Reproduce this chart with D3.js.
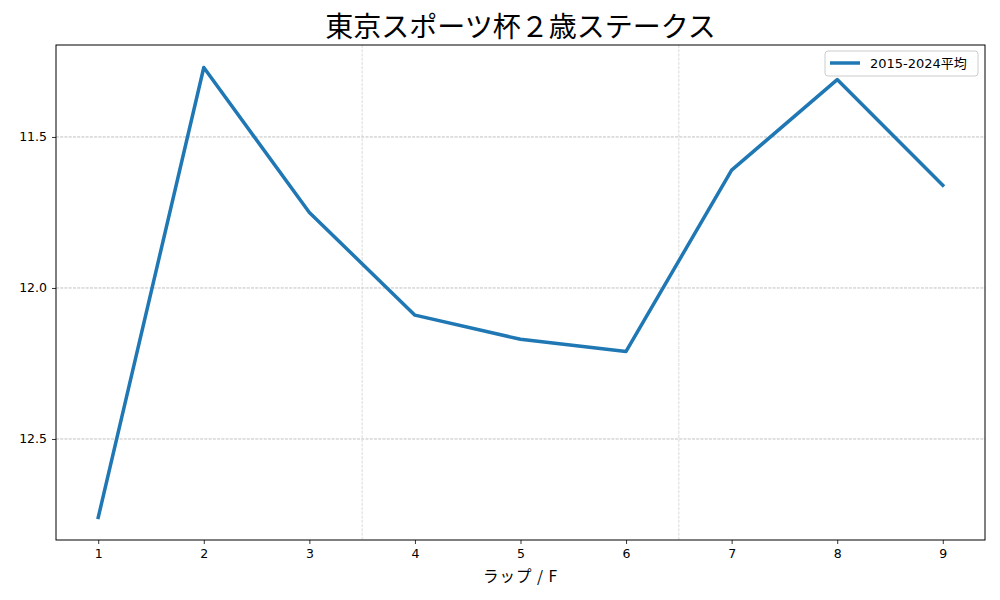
<!DOCTYPE html>
<html><head><meta charset="utf-8">
<script src="https://cdn.jsdelivr.net/npm/d3@7"></script>
<style>body{margin:0;background:#fff;} svg{display:block;}</style>
</head><body>
<svg id="c" width="1000" height="600"></svg>
<script>
const laps = [1,2,3,4,5,6,7,8,9];
const avgTimes = [12.76, 11.27, 11.75, 12.09, 12.17, 12.21, 11.61, 11.31, 11.66];
const yTicks = [11.5, 12.0, 12.5];
const vLines = [3.5, 6.5];
const seriesName = "2015-2024平均";
const title = "東京スポーツ杯２歳ステークス";
const xLabel = "ラップ / F";

const svg = d3.select("#c");
const m = {l:56, r:985, t:45, b:540};
const font = "'Noto Sans CJK JP', 'DejaVu Sans', sans-serif";
const nfont = "'DejaVu Sans', 'Noto Sans CJK JP', sans-serif";
const ymin = d3.min(avgTimes), ymax = d3.max(avgTimes), pad = (ymax-ymin)*0.05;
const x = d3.scaleLinear().domain([0.6, 9.4]).range([m.l, m.r]);
const y = d3.scaleLinear().domain([ymin-pad, ymax+pad]).range([m.t, m.b]);

// grid
svg.selectAll(".hg").data(yTicks).enter().append("line")
  .attr("x1", m.l).attr("x2", m.r).attr("y1", d=>y(d)).attr("y2", d=>y(d))
  .attr("stroke", "#b0b0b0").attr("stroke-width", 0.8).attr("stroke-dasharray", "2.96,1.28");
svg.selectAll(".vg").data(vLines).enter().append("line")
  .attr("y1", m.t).attr("y2", m.b).attr("x1", d=>x(d)).attr("x2", d=>x(d))
  .attr("stroke", "#d0d0d0").attr("stroke-width", 0.8).attr("stroke-dasharray", "2.96,1.28");

// line
svg.append("path").datum(laps.map((l,i)=>[l, avgTimes[i]]))
  .attr("fill","none").attr("stroke","#1f77b4").attr("stroke-width",3.5)
  .attr("stroke-linejoin","round").attr("stroke-linecap","square")
  .attr("d", d3.line().x(d=>x(d[0])).y(d=>y(d[1])));

// axes
const xa = svg.append("g").attr("transform", `translate(0,${m.b})`)
  .call(d3.axisBottom(x).tickValues(laps).tickSize(4).tickPadding(5).tickFormat(d3.format("d")));
const ya = svg.append("g").attr("transform", `translate(${m.l},0)`)
  .call(d3.axisLeft(y).tickValues(yTicks).tickSize(4).tickPadding(5).tickFormat(d3.format(".1f")));
[xa, ya].forEach(a => {
  a.select(".domain").remove();
  a.selectAll("text").attr("font-family", nfont).attr("font-size", 12.5).attr("fill", "#000");
  a.selectAll("line").attr("stroke", "#000").attr("stroke-width", 0.8);
});
svg.append("rect").attr("x", m.l).attr("y", m.t).attr("width", m.r-m.l).attr("height", m.b-m.t)
  .attr("fill","none").attr("stroke","#000").attr("stroke-width",1);

// labels
svg.append("text").attr("x", (m.l+m.r)/2).attr("y", 37).attr("text-anchor","middle")
  .attr("font-family", font).attr("font-size", 28).text(title);
svg.append("text").attr("x", (m.l+m.r)/2).attr("y", 582).attr("text-anchor","middle")
  .attr("font-family", font).attr("font-size", 15.5).attr("letter-spacing", 1).text(xLabel);

// legend
const lg = svg.append("g");
lg.append("rect").attr("x", 825).attr("y", 51).attr("width", 153).attr("height", 25).attr("rx", 3)
  .attr("fill","#fff").attr("fill-opacity",0.8).attr("stroke","#ccc").attr("stroke-width",1);
lg.append("line").attr("x1", 830).attr("x2", 860).attr("y1", 63).attr("y2", 63)
  .attr("stroke","#1f77b4").attr("stroke-width",3.5);
lg.append("text").attr("x", 870).attr("y", 67.5).attr("font-family", nfont).attr("font-size", 13).text(seriesName);
</script>
</body></html>
